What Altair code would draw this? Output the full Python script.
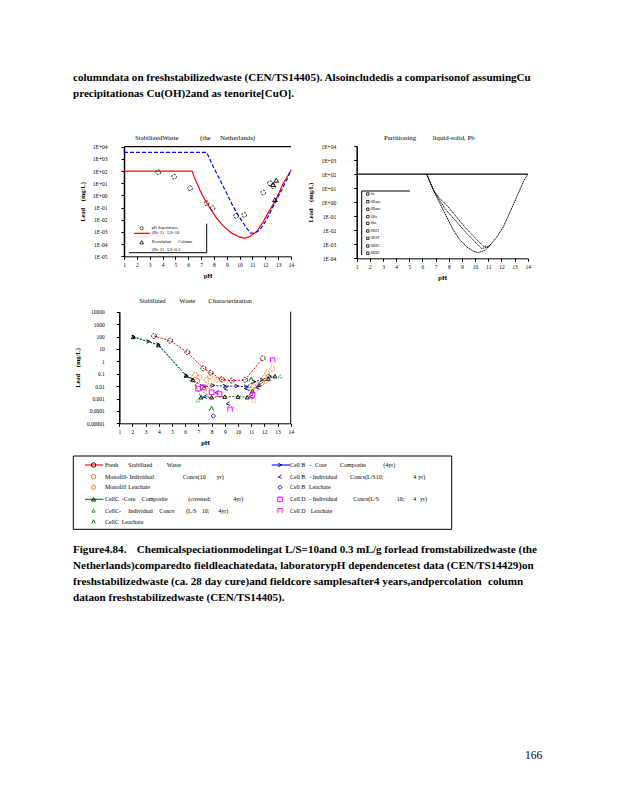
import altair as alt
import pandas as pd

W, H = 602, 784
P = 8
SERIF = "Liberation Serif"
NB = "\u00a0"

# ---------------- Chart A : Stabilized Waste (the Netherlands) ----------------
a_red_ph = [1.0, 6.3, 6.45, 6.9, 7.3, 7.7, 8.2, 8.73, 9.38, 10.03, 10.4, 10.8, 11.33, 11.84, 12.36, 12.88, 13.4, 14.0]
a_red_log = [2.0, 2.0, 1.54, 0.45, -0.37, -1.05, -1.87, -2.5, -3.1, -3.43, -3.5, -3.38, -2.97, -2.15, -1.19, -0.23, 1.0, 2.05]
a_blue_ph = [1.0, 7.43, 7.95, 8.47, 8.99, 9.5, 10.03, 10.55, 10.85, 11.2, 11.58, 12.1, 12.6, 13.14, 13.66, 14.0]
a_blue_log = [3.54, 3.54, 2.36, 1.27, 0.18, -0.92, -1.87, -2.69, -3.1, -3.08, -2.83, -2.0, -0.92, 0.18, 1.27, 2.1]
a_circ_ph = [3.67, 4.9, 6.14, 7.43, 7.9, 9.72, 10.36, 11.84, 12.36, 12.62]
a_circ_log = [1.9, 1.54, 0.59, -0.64, -1.05, -1.68, -1.6, 0.23, 1.0, 0.75]
a_tri_ph = [12.85, 12.6, 12.75]
a_tri_log = [1.25, 0.9, -0.35]
a_top_ph = [1.0, 14.0]
a_top_log = [4.0, 4.0]

# ---------------- Chart B : Partitioning liquid-solid, Pb ----------------
b_flat_ph = [1.0, 14.0]
b_flat_log = [2.0, 2.0]
b_low_ph = [6.32, 6.83, 7.33, 7.84, 8.35, 8.86, 9.37, 9.87, 10.25, 10.76, 11.14, 11.65, 12.15, 12.66, 13.17, 13.67, 14.0]
b_low_log = [2.0, 0.86, -0.1, -1.05, -2.0, -2.71, -3.19, -3.5, -3.6, -3.43, -3.07, -2.48, -1.76, -0.69, 0.38, 1.45, 2.0]
b_up1_ph = [6.32, 6.83, 7.2, 7.84, 8.5, 9.2, 9.9, 10.63, 11.0, 11.14]
b_up1_log = [2.0, 0.86, 0.38, -0.21, -0.95, -1.75, -2.45, -3.14, -3.15, -3.07]
b_up2_ph = [6.32, 6.83, 7.2, 7.7, 8.4, 9.1, 9.8, 10.5, 11.0, 11.14]
b_up2_log = [2.0, 0.86, 0.3, -0.45, -1.2, -1.95, -2.65, -3.3, -3.2, -3.07]
b_legend = ["Sa", "SBaus", "SBaus", "SBa", "Sba", "SBEJ", "SBST", "SBBJ", "SBBJ"]

# ---------------- Chart C : Stabilized Waste Characterization ----------------
c_fresh_ph = [3.63, 4.85, 6.16, 7.38, 7.93, 8.77, 9.53, 10.54, 11.88]
c_fresh_log = [2.04, 1.66, 0.73, -0.57, -0.92, -1.45, -1.56, -1.5, 0.24]
c_coreB_ph = [2.06, 3.2, 3.96, 6.06, 6.5, 7.4, 8.1, 9.0, 9.9, 10.6, 11.2, 11.8, 12.4]
c_coreB_log = [1.97, 1.6, 1.35, -1.15, -1.45, -2.05, -1.95, -2.0, -2.0, -2.05, -1.65, -1.5, -1.2]
c_coreC_ph = [2.06, 3.96, 6.06, 6.6, 7.2, 8.0, 9.0, 10.0, 10.7, 11.1, 11.6, 12.3, 12.8]
c_coreC_log = [1.97, 1.3, -1.15, -1.5, -2.9, -2.9, -2.85, -2.85, -2.9, -2.4, -1.9, -1.4, -1.2]
c_monoI_ph = [6.75, 7.1, 6.9, 7.43, 7.6, 7.8, 7.9, 8.4, 8.8, 11.17, 11.3, 11.55, 11.8, 12.0, 12.2, 12.6]
c_monoI_log = [-1.1, -1.3, -1.6, -2.3, -1.5, -2.0, -1.2, -1.5, -1.5, -2.05, -2.3, -1.9, -1.75, -1.35, -0.95, -0.6]
c_monoL_ph = [11.2, 12.1]
c_monoL_log = [-3.15, -1.6]
c_BI_ph = [7.5, 8.4, 9.1, 9.25, 10.7, 11.0, 11.5]
c_BI_log = [-2.85, -2.5, -2.2, -3.4, -2.2, -2.85, -2.1]
c_BL_ph = [8.13]
c_BL_log = [-4.41]
c_DI_ph = [6.97, 7.35, 8.0, 8.6, 11.1]
c_DI_log = [-2.2, -2.1, -2.5, -2.65, -2.75]
c_DL_ph = [9.4, 12.63]
c_DL_log = [-3.87, 0.1]
c_CI_ph = [6.95, 7.6, 10.95, 13.2]
c_CI_log = [-3.15, -2.7, -2.2, -1.2]
c_CL_ph = [8.0, 11.0]
c_CL_log = [-3.8, -1.45]

# ---------------- legend texts (figure legend box) ----------------
leg_left = [
    [(105, "Fresh"), (128.3, "Stabilized"), (166.7, "Waste")],
    [(105, "Monofill"), (126, "- Individual"), (182.7, "Concs(10"), (216.7, "yr)")],
    [(105, "Monofill"), (128.3, "Leachate")],
    [(105, "Cell"), (115, "C"), (121.7, "-Core"), (141.7, "Composite"), (188.3, "(covered;"), (233.3, "4yr)")],
    [(105, "CellC-"), (128.3, "Individual"), (159.3, "Concs"), (186, "(L/S"), (201.7, "10;"), (218.3, "4yr)")],
    [(105, "Cell"), (115, "C"), (121.7, "Leachate")],
]
leg_right = [
    [(290, "Cell"), (301.2, "B"), (309.3, "-"), (315, "Core"), (340, "Composite"), (383.3, "(4yr)")],
    [(290, "Cell"), (301.2, "B"), (309.3, "- Individual"), (350, "Concs(L/S10;"), (413.3, "4"), (418.3, "yr)")],
    [(290, "Cell"), (301.2, "B"), (309, "Leachate")],
    [(290, "Cell"), (301.2, "D"), (309.3, "- Individual"), (353.3, "Concs(L/S"), (396.7, "10;"), (413.3, "4"), (420, "yr)")],
    [(290, "Cell"), (301.2, "D"), (310.7, "Leachate")],
]

ONE = pd.DataFrame({"k": [0]})
LAMBDA = "M-1,1L0,-1L1,1"
PI = "M-1,1L-1,-1L1,-1L1,1"
CHEV_R = "M-1,-1L1,0L-1,1"
CHEV_L = "M1,-1L-1,0.2L1,1"


def df(ph, lg):
    return pd.DataFrame({"pH": ph, "log10_lead": lg})


def T(s, x, y, size=6.5, bold=False, align="left", color="black", angle=0):
    return alt.Chart(ONE).mark_text(
        text=s, align=align, baseline="middle", fontSize=size, font=SERIF,
        fontWeight="bold" if bold else "normal", color=color, angle=angle
    ).encode(x=alt.value(x - P), y=alt.value(y - P))


def R(x1, y1, x2, y2, color="black", width=1.0, dash=None):
    kw = dict(color=color, strokeWidth=width)
    if dash:
        kw["strokeDash"] = dash
    return alt.Chart(ONE).mark_rule(**kw).encode(
        x=alt.value(x1 - P), x2=alt.value(x2 - P), y=alt.value(y1 - P), y2=alt.value(y2 - P))


def PT(x, y, shape, color, size=20, width=0.9):
    return alt.Chart(ONE).mark_point(shape=shape, color=color, filled=False, size=size,
                                     strokeWidth=width, opacity=1).encode(
        x=alt.value(x - P), y=alt.value(y - P))


def make_panel(xr, yr, ydom, yvals, label_expr, label_pad, title_pad, layers_spec):
    """xr, yr: page pixel extents of the plot area"""
    xs = alt.Scale(domain=[1, 14], range=[xr[0] - P, xr[1] - P], nice=False, zero=False)
    ys = alt.Scale(domain=ydom, range=[yr[1] - P, yr[0] - P], nice=False, zero=False)
    xax = alt.Axis(orient="bottom", offset=(yr[1] - P) - H, values=list(range(1, 15)), title="pH",
                   grid=False, labelFont=SERIF, labelFontSize=5.5, labelPadding=3, tickSize=3,
                   tickColor="black", domainColor="black", domainWidth=1, labelColor="black",
                   titleFont=SERIF, titleFontSize=6.5, titleFontWeight="bold", titlePadding=5,
                   titleColor="black", labelFlush=False, labelOverlap=False)
    yax = alt.Axis(orient="left", offset=-(xr[0] - P), values=yvals, labelExpr=label_expr,
                   title="Lead" + NB * 4 + "(mg/L)", grid=False, labelFont=SERIF, labelFontSize=5.5,
                   labelPadding=label_pad, tickSize=3, tickColor="black", domainColor="black",
                   domainWidth=1.5, labelColor="black", titleFont=SERIF, titleFontSize=6.5,
                   titleFontWeight="bold", titlePadding=title_pad, titleColor="black",
                   labelFlush=False, labelOverlap=False)
    out = []
    for data, mark in layers_spec:
        out.append(mark(alt.Chart(data)).encode(
            x=alt.X("pH:Q", scale=xs, axis=xax),
            y=alt.Y("log10_lead:Q", scale=ys, axis=yax)))
    return alt.layer(*out)


def line(color, width=1.1, dash=None):
    kw = dict(color=color, strokeWidth=width, interpolate="linear")
    if dash:
        kw["strokeDash"] = dash
    return lambda c: c.mark_line(**kw)


def pts(shape, color, size=22, width=0.9, dash=None):
    kw = dict(shape=shape, color=color, filled=False, size=size, strokeWidth=width, opacity=1)
    if dash:
        kw["strokeDash"] = dash
    return lambda c: c.mark_point(**kw)


EXP_LABEL = "'1E' + (datum.value >= 0 ? '+' : '-') + '0' + abs(datum.value)"
DEC_LABEL = "format(pow(10, datum.value), '.5~f')"

panelA = make_panel(
    (124, 291), (146.7, 256.3), [-5, 4], list(range(-5, 5)), EXP_LABEL, 14, 7,
    [
        (df(a_top_ph, a_top_log), line("black", 1.2)),
        (df(a_red_ph, a_red_log), line("#ff0000", 1.2)),
        (df(a_blue_ph, a_blue_log), line("#0000ff", 1.2, [4, 2])),
        (df(a_circ_ph, a_circ_log), pts("circle", "black", 22, 0.9, [2, 1.2])),
        (df(a_tri_ph, a_tri_log), pts("triangle-up", "black", 22, 0.9)),
    ])

panelB = make_panel(
    (356.7, 527.7), (146, 258.3), [-4, 4], list(range(-4, 5)), EXP_LABEL, 18, 7,
    [
        (df(b_flat_ph, b_flat_log), line("black", 1.2)),
        (df(b_low_ph, b_low_log), line("black", 1.0, [1.5, 0.6])),
        (df(b_up1_ph, b_up1_log), line("black", 0.9, [1.5, 0.6])),
        (df(b_up2_ph, b_up2_log), line("black", 0.9, [1.5, 0.6])),
    ])

panelC = make_panel(
    (119.3, 290.7), (311.7, 423.3), [-5, 4], list(range(-5, 5)), DEC_LABEL, 12, 6,
    [
        (df([14, 14], [-5, 4]), line("black", 1.0)),
        (df(c_fresh_ph, c_fresh_log), line("#ff0000", 1.0, [2, 1.5])),
        (df(c_coreB_ph, c_coreB_log), line("#0000ff", 1.0, [2, 1.5])),
        (df(c_coreC_ph, c_coreC_log), line("#008000", 1.0, [2, 1.5])),
        (df(c_fresh_ph, c_fresh_log), pts("circle", "black", 24, 0.9, [2, 1.2])),
        (df(c_coreB_ph, c_coreB_log), pts(CHEV_R, "black", 14, 0.9)),
        (df(c_coreC_ph, c_coreC_log), pts("triangle-up", "black", 16, 0.9)),
        (df(c_monoI_ph, c_monoI_log), pts("circle", "#ff6600", 26, 0.9, [2, 1.2])),
        (df(c_monoL_ph, c_monoL_log), pts("circle", "#ff6600", 18, 0.9, [1, 1])),
        (df(c_BI_ph, c_BI_log), pts(CHEV_L, "#0000ff", 14, 0.9)),
        (df(c_BL_ph, c_BL_log), pts("diamond", "#0000ff", 20, 0.9)),
        (df(c_DI_ph, c_DI_log), pts("square", "#ff00ff", 22, 1.0)),
        (df(c_DL_ph, c_DL_log), pts(PI, "#ff00ff", 20, 1.0)),
        (df(c_CI_ph, c_CI_log), pts("triangle-up", "#008000", 16, 0.8, [1, 1])),
        (df(c_CL_ph, c_CL_log), pts(LAMBDA, "#008000", 18, 1.0)),
    ])

deco = []
BIG = 11.1
# Header paragraph
deco.append(T("columndata on freshstabilizedwaste (CEN/TS14405). Alsoincludedis a comparisonof assumingCu",
              73, 78.3, BIG, True))
deco.append(T("precipitationas Cu(OH)2and as tenorite[CuO].", 73, 94.3, BIG, True))

# Panel titles
deco += [T("StabilizedWaste", 135, 137.7, 6.8), T("(the", 200, 137.7, 6.8), T("Netherlands)", 220, 137.7, 6.8)]
deco += [T("Partitioning", 384, 137.7, 6.8), T("liquid-solid, Pb", 432.7, 137.7, 6.8)]
deco += [T("Stabilized", 139.3, 301, 6.6), T("Waste", 179.3, 301, 6.6), T("Characterization", 208.3, 301, 6.6)]

# Panel A inner legend
deco += [R(206.7, 223.7, 206.7, 252.7), R(129, 252.7, 206.7, 252.7)]
deco += [PT(141.7, 228.3, "circle", "black", 10, 0.7), T("pH dependence", 151.7, 228.3, 4.3)]
deco += [R(134, 233.3, 150, 233.3, "#ff0000", 1.2), T("(Pb+2)", 151.7, 233.3, 4.3), T("LS=10", 167.3, 233.3, 4.3)]
deco += [PT(141.7, 242.3, "triangle-up", "black", 14, 0.8), T("Percolation", 151.7, 242.3, 4.3),
         T("Column", 178.3, 242.3, 4.3)]
deco += [T("(Pb+2)", 151.7, 250, 4.3), T("LS=0.3", 167.3, 250, 4.3)]

# Panel B inner legend
deco += [R(361.7, 191, 410, 191), R(361.7, 191, 361.7, 255)]
b_rows = [194, 201.7, 209.3, 216.7, 223.3, 231, 238.3, 246, 253.3]
for yy, lab in zip(b_rows, b_legend):
    deco += [PT(367.8, yy, "square", "black", 6, 0.8), T(lab, 370.5, yy, 3.8)]

# Figure legend box
deco += [R(73.3, 456, 451.7, 456), R(73.3, 529.3, 451.7, 529.3),
         R(73.3, 456, 73.3, 529.3), R(451.7, 456, 451.7, 529.3)]
rows = [465, 476.7, 487.3, 499.3, 510.7, 521.7]
for yy, words in zip(rows, leg_left):
    for xx, w in words:
        deco.append(T(w, xx, yy, 6.0))
for yy, words in zip(rows, leg_right):
    for xx, w in words:
        deco.append(T(w, xx, yy, 6.0))
# legend symbols left
deco += [R(85, rows[0], 103.3, rows[0], "#ff0000", 1.1), PT(93.5, rows[0], "circle", "black", 20, 0.9)]
deco += [PT(93.5, rows[1], "circle", "#ff6600", 20, 0.9)]
deco += [PT(93.5, rows[2], "circle", "#ff6600", 16, 0.9)]
deco += [R(85, rows[3], 103.3, rows[3], "#008000", 1.1), PT(93.5, rows[3], "triangle-up", "black", 16, 0.9)]
deco += [PT(93.5, rows[4], "triangle-up", "#008000", 12, 0.8)]
deco += [PT(93.5, rows[5], LAMBDA, "#008000", 14, 1.0)]
# legend symbols right
deco += [R(271.7, rows[0], 290, rows[0], "#0000ff", 1.1), PT(280, rows[0], CHEV_R, "black", 12, 0.9)]
deco += [PT(280, rows[1], CHEV_L, "#0000ff", 12, 0.9)]
deco += [PT(280, rows[2], "diamond", "#0000ff", 18, 0.9)]
deco += [PT(280, rows[3], "square", "#ff00ff", 20, 1.0)]
deco += [PT(280, rows[4], PI, "#ff00ff", 18, 1.0)]

# Caption
deco.append(T("Figure4.84.", 73, 550, BIG, True))
deco.append(T("Chemicalspeciationmodelingat L/S=10and 0.3 mL/g forlead fromstabilizedwaste (the", 136.7, 550, BIG, True))
deco.append(T("Netherlands)comparedto fieldleachatedata, laboratorypH dependencetest data (CEN/TS14429)on", 73, 566, BIG, True))
deco.append(T("freshstabilizedwaste (ca. 28 day cure)and fieldcore samplesafter4 years,andpercolation", 73, 582, BIG, True))
deco.append(T("column", 488, 582, BIG, True))
deco.append(T("dataon freshstabilizedwaste (CEN/TS14405).", 73, 597.7, BIG, True))

# Page number
deco.append(T("166", 525, 755.7, 11.5))

chart = alt.layer(panelA, panelB, panelC, *deco).resolve_scale(
    x="independent", y="independent"
).resolve_axis(
    x="independent", y="independent"
).properties(
    width=W, height=H, autosize=alt.AutoSizeParams(type="none"), padding=0
).configure_view(stroke=None)

chart.save("out.html", embed_options={"renderer": "svg", "actions": False})
